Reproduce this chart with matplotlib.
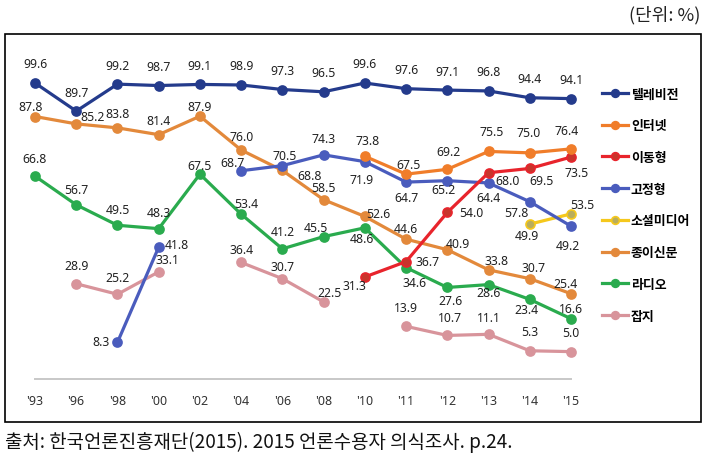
import numpy as np
import matplotlib
matplotlib.use("Agg")
import matplotlib.pyplot as plt
from matplotlib.patches import Rectangle

# %% Data (%)
nan = np.nan
years = ["'93", "'96", "'98", "'00", "'02", "'04", "'06", "'08",
         "'10", "'11", "'12", "'13", "'14", "'15"]

tv = [99.6, 89.7, 99.2, 98.7, 99.1, 98.9, 97.3, 96.5, 99.6, 97.6, 97.1, 96.8, 94.4, 94.1]
internet = [nan] * 8 + [73.8, 67.5, 69.2, 75.5, 75.0, 76.4]
mobile = [nan] * 8 + [31.3, 36.7, 54.0, 68.0, 69.5, 73.5]
fixed = [nan, nan, 8.3, 41.8, nan, 68.7, 70.5, 74.3, 71.9, 64.7, 65.2, 64.4, 57.8, 49.2]
social = [nan] * 12 + [49.9, 53.5]
paper = [87.8, 85.2, 83.8, 81.4, 87.9, 76.0, 68.8, 58.5, 52.6, 44.6, 40.9, 33.8, 30.7, 25.4]
radio = [66.8, 56.7, 49.5, 48.3, 67.5, 53.4, 41.2, 45.5, 48.6, 34.6, 27.6, 28.6, 23.4, 16.6]
magazine = [nan, 28.9, 25.2, 33.1, nan, 36.4, 30.7, 22.5, nan, 13.9, 10.7, 11.1, 5.3, 5.0]

names = ["텔레비전", "인터넷", "이동형", "고정형", "소셜미디어", "종이신문", "라디오", "잡지"]
series = [tv, internet, mobile, fixed, social, paper, radio, magazine]

# %% Styles
colors = ["#243b8c", "#f07d2a", "#e8242c", "#4a5cbd", "#f5c81c", "#e3893b", "#2aab4e", "#d8949b"]
face_colors = ["#243b8c", "#f07d2a", "#c8352c", "#4a5cbd", "#b9ad5c", "#e3893b", "#2aab4e", "#d8949b"]

# label offsets in image pixels (dx right, dy down), one per data point
U = (0, -14)
label_offsets = [
    [(0, -19)] * 14,
    [None] * 8 + [(3, -16), (2, -10), (1, -18), (3, -20), (-1, -20), (-4, -18)],
    [None] * 8 + [(-10, 9), (21, 0), (24, 0), (19, 8), (12, 12), (6, 15)],
    [None, None, (-16, -1), (18, -3), None, (-9, -8), (2, -10), (0, -16),
     (-3, 18), (0, 15), (-4, 9), (0, 15), (-13, 11), (-3, 19)],
    [None] * 12 + [(-3, 11), (11, -9)],
    [(-4, -10), (16, -7), U, U, (0, -10), U, (27, 5), (0, -12), (13, -3),
     (0, -11), (11, -6), (8, -9), (4, -11), (-5, -10)],
    [(0, -18), (0, -15), (0, -16), (0, -16), (0, -9), (5, -11), (0, -17), (-8, -9),
     (-3, 11), (8, 15), (3, 13), (0, 8), (-3, 10), (0, -10)],
    [None, (0, -18), (0, -17), (9, -12), None, (0, -13), (0, -12), (6, -9),
     None, (0, -19), (3, -18), (0, -17), (0, -19), (0, -19)],
]

plt.rcParams['font.family'] = ['Noto Sans', 'Noto Sans CJK KR', 'DejaVu Sans']

# %% Figure
fig = plt.figure(figsize=(7.12, 4.64), dpi=100)
W, H = 712, 464
ax = fig.add_axes([14.4 / W, 1 - 385 / H, 577.2 / W, 325 / H])
ax.set_xlim(-0.5, 13.5)
ax.set_ylim(-6.4, 108.05)
for s in ax.spines.values():
    s.set_visible(False)
ax.set_yticks([])
x = np.arange(len(years))
ax.set_xticks(x)
ax.set_xticklabels(years, fontsize=9, color="#333333")
ax.tick_params(axis='x', length=0, pad=7)

# light baseline under the lines
ax.plot([x[0], x[-1]], [-4.6, -4.6], color="#c8c8c8", lw=1.4, zorder=1)

handles = []
for i, (name, vals) in enumerate(zip(names, series)):
    ln, = ax.plot(x, vals, color=colors[i], lw=2.3, marker='o', ms=6.5,
                  mfc=face_colors[i], mec=colors[i], mew=1.2,
                  zorder=10 - i, label=name)
    handles.append(ln)
    for j, v in enumerate(vals):
        if np.isnan(v):
            continue
        dx, dy = label_offsets[i][j]
        ax.annotate(f"{v:.1f}", (x[j], v), xytext=(dx, -dy), textcoords='offset pixels',
                    ha='center', va='center', fontsize=8.8, color="#222222", zorder=20)

fig.legend(handles=handles, loc='upper left', bbox_to_anchor=(596 / W, 1 - 82 / H),
           frameon=False, prop={'weight': 'bold', 'size': 9.3}, markerscale=0.85,
           handlelength=2.0, handletextpad=0.2, labelspacing=1.45, borderpad=0)

# outer frame
fig.add_artist(Rectangle((5 / W, 1 - 423 / H), 696 / W, 388 / H, fill=False,
                         lw=1.2, ec='black', transform=fig.transFigure))

fig.text(700 / W, 1 - 15 / H, "(단위: %)", ha='right', va='center', fontsize=13,
         family=['Noto Sans CJK KR', 'DejaVu Sans'], color="#222222")
fig.text(5 / W, 1 - 442 / H, "출처: 한국언론진흥재단(2015). 2015 언론수용자 의식조사. p.24.",
         ha='left', va='center', fontsize=13.6,
         family=['Noto Sans CJK KR', 'DejaVu Sans'], color="#111111")

fig.savefig("out.png", dpi=100)
